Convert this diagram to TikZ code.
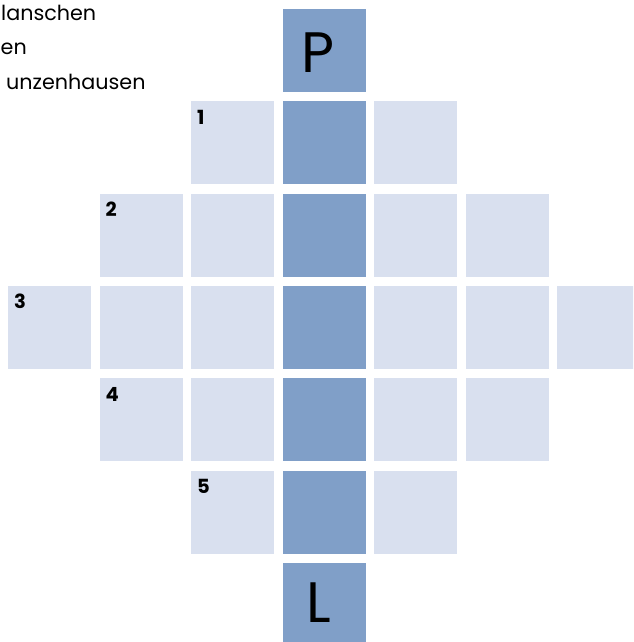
\documentclass[tikz,border=0pt]{standalone}
\usepackage{fontspec}
\setmainfont{Poppins}
\usetikzlibrary{calc, positioning}
\definecolor{pdark}{HTML}{809FC8}
\definecolor{plight}{HTML}{D9E0EF}
\tikzset{
  cell/.style={inner sep=0, outer sep=0, minimum size=83pt, anchor=north west},
  lightcell/.style={cell, fill=plight},
  darkcell/.style={cell, fill=pdark},
  numlabel/.style={inner sep=0, anchor=base west, font=\fontsize{19.5}{22}\selectfont\bfseries},
  bigletter/.style={inner sep=0, anchor=base, font=\fontsize{57}{60}\selectfont},
  town/.style={inner sep=0, anchor=base west, font=\fontsize{20.7}{24}\selectfont}
}
\begin{document}
\begin{tikzpicture}[x=1pt,y=-1pt]
\def\px{91.5}
\def\py{92.33}
\useasboundingbox (0,0) rectangle (633,642);
\clip (0,0) rectangle (633,642);

% light squares, row/column
\foreach \r/\c in {1/2,1/4, 2/1,2/2,2/4,2/5, 3/0,3/1,3/2,3/4,3/5,3/6, 4/1,4/2,4/4,4/5, 5/2,5/4}
  \node[lightcell] (c\r\c) at ({8+\c*\px},{9+\r*\py}) {};
% middle column
\foreach \r in {0,...,6}
  \node[darkcell] (c\r3) at ({8+3*\px},{9+\r*\py}) {};

\node[bigletter] (P) at ($(c03.north)+(-6,63.5)$) {P};
\node[bigletter] (L) at ($(c63.north)+(-5,60)$) {L};

\node[numlabel] (n1) at ($(c12.north west)+(6,23)$) {1};
\node[numlabel] (n2) at ($(c21.north west)+(6,23)$) {2};
\node[numlabel] (n3) at ($(c30.north west)+(6,23)$) {3};
\node[numlabel] (n4) at ($(c41.north west)+(6,23)$) {4};
\node[numlabel] (n5) at ($(c52.north west)+(6,23)$) {5};

\node[town] (t1) at (1,21) {lanschen};
\node[town] (t2) at (0.5,55) {en};
\node[town] (t3) at (6,89) {unzenhausen};
\end{tikzpicture}
\end{document}
